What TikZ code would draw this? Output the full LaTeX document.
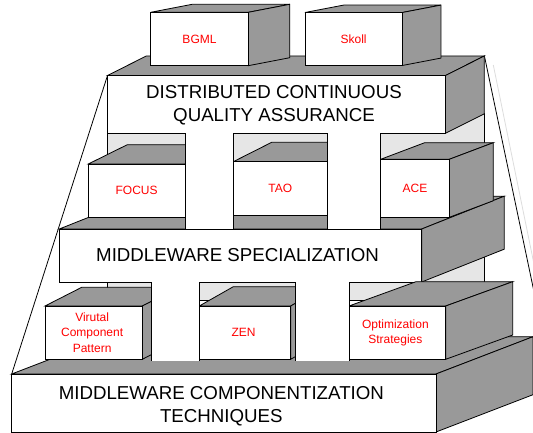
\documentclass[tikz,border=0pt]{standalone}
\usepackage{fontspec}
\setmainfont{Liberation Sans}
\definecolor{dk}{HTML}{999999}
\definecolor{lt}{HTML}{E6E6E6}
\definecolor{faint}{HTML}{DDDDDD}
\tikzset{
  edge/.style={draw=black, line width=0.8pt, line join=miter},
  bigtxt/.style={font=\fontsize{18.7}{23.5}\selectfont, align=center, text=black, inner sep=0pt},
  redtxt/.style={font=\fontsize{12}{15.3}\selectfont, align=center, text=red, inner sep=0pt},
  pillar/.style={fill=white},
  guide/.style={draw=black, line width=0.8pt},
  faintguide/.style={draw=faint, line width=0.8pt},
}
% #1 x1, #2 y1 (front top-left), #3 x2, #4 y2 (front bottom-right),
% #5 dx, #6 dy (depth), #7 node name, #8 text, #9 text style
\newcommand\blockbox[9]{%
  \draw[edge, fill=dk] (#1,#2) -- ++(#5,#6) -- ({#3+#5},{#2+#6}) -- (#3,#2) -- cycle;
  \draw[edge, fill=dk] (#3,#2) -- ++(#5,#6) -- ++(0,{#4-#2}) -- (#3,#4) -- cycle;
  \draw[edge, fill=white] (#1,#2) rectangle (#3,#4);
  \node[#9] (#7) at ({(#1+#3)/2},{(#2+#4)/2}) {#8};
}
\newcommand\pillarbox[4]{%
  \fill[pillar] (#1,#2) rectangle (#3,#4);
  \draw[edge] (#1,#2) -- (#1,#4);
  \draw[edge] (#3,#2) -- (#3,#4);
}
\begin{document}
\begin{tikzpicture}[x=1pt,y=-1pt]
\clip (0,0) rectangle (533,433);
\fill[white] (0,0) rectangle (533,433);

% guide lines of the pyramid
\coordinate (gl1) at (107.5,75.5);
\coordinate (gl2) at (11.7,374);
\coordinate (gr1) at (484.3,55.5);
\coordinate (gr2) at (545,344);
\coordinate (gf1) at (493.3,65);
\coordinate (gf2) at (545,318);
\draw[guide] (gl1) -- (gl2);
\draw[guide] (gr1) -- (gr2);
\draw[faintguide] (gf1) -- (gf2);

% back panel
\draw[edge, fill=lt] (107.5,113) rectangle (484.3,300);

% top tier
\blockbox{107.5}{75.5}{445.5}{133.3}{38.8}{-19.5}{dcqa}{DISTRIBUTED CONTINUOUS\\QUALITY ASSURANCE}{bigtxt, yshift=-1pt, xshift=-2.5pt}
\blockbox{150.7}{12.3}{248.3}{65.7}{41.5}{-8}{bgml}{BGML}{redtxt}
\blockbox{305}{12.5}{402.3}{65.5}{38.6}{-7.4}{skoll}{Skoll}{redtxt}

% middle tier
\blockbox{59.3}{229}{421.7}{282}{82.5}{-32.8}{ms}{MIDDLEWARE SPECIALIZATION}{bigtxt, xshift=-3pt}
\blockbox{88.3}{164}{185}{217.3}{39}{-19.3}{focus}{FOCUS}{redtxt}
\blockbox{233.3}{161.7}{327.3}{215.5}{38.4}{-19.4}{tao}{TAO}{redtxt}
\blockbox{380.7}{159.3}{449.3}{217.3}{44}{-16.6}{ace}{ACE}{redtxt}
\pillarbox{185}{133.3}{233.3}{229}
\pillarbox{327.3}{133.3}{380.7}{229}

% bottom tier
\blockbox{11.7}{374}{436}{432}{97}{-37.3}{mct}{MIDDLEWARE COMPONENTIZATION\\TECHNIQUES}{bigtxt, yshift=-3pt, xshift=-2.5pt}
\blockbox{45}{306}{142.3}{359.3}{36.7}{-18.7}{vcp}{Virutal\\Component\\Pattern}{redtxt, xshift=-1.5pt}
\blockbox{199.3}{306}{290.7}{359.3}{34}{-19.3}{zen}{ZEN}{redtxt, xshift=-1.5pt}
\blockbox{349}{306}{445.7}{359.3}{67}{-24.3}{opt}{Optimization\\Strategies}{redtxt, xshift=-2pt}
\pillarbox{151.7}{282}{199.3}{360.5}
\pillarbox{295}{282}{349}{360.5}
\end{tikzpicture}
\end{document}
